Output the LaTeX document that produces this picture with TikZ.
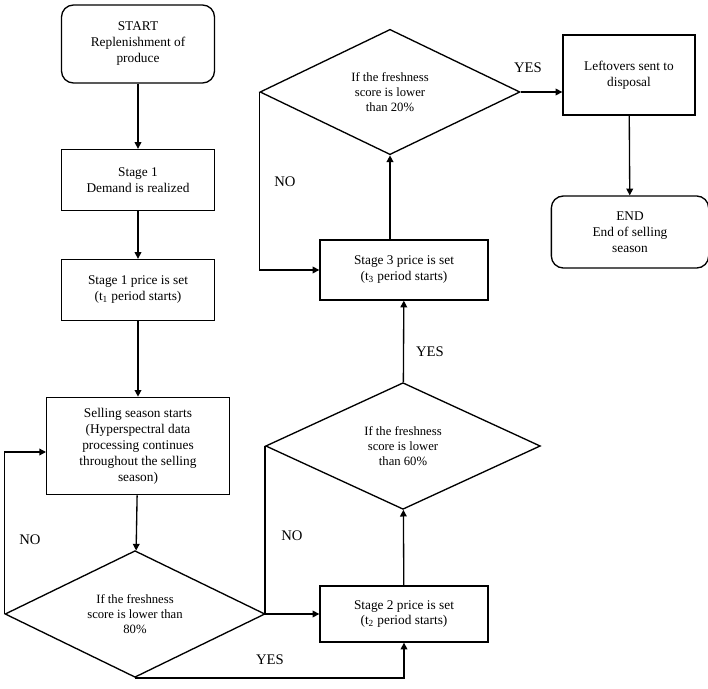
\documentclass[tikz,border=0pt]{standalone}
\usepackage{fontspec}
\setmainfont{Liberation Serif}
\usetikzlibrary{shapes.geometric,arrows.meta}
\begin{document}
\begin{tikzpicture}[x=0.75pt,y=-0.75pt,
 box/.style={draw,line width=1pt,align=center,font=\fontsize{10}{12}\selectfont,inner sep=2pt},
 dia/.style={draw,line width=1pt,diamond,aspect=2.1,align=center,font=\fontsize{9.5}{11.5}\selectfont,inner sep=0pt},
 arr/.style={line width=1pt,-{Triangle[length=5pt,width=5pt]}},
 lab/.style={font=\fontsize{11}{13}\selectfont}]
\useasboundingbox (0,0) rectangle (708,689);
\node[box,rounded corners=9pt,minimum width=114.75pt,minimum height=58.5pt] (start) at (138,44) {START\\Replenishment of\\produce};
\node[box,minimum width=114.75pt,minimum height=45.75pt] (s1) at (138,180) {Stage 1\\Demand is realized};
\node[box,minimum width=114.75pt,minimum height=45.75pt] (p1) at (138,290) {Stage 1 price is set\\(t\textsubscript{1} period starts)};
\node[box,minimum width=137pt,minimum height=73pt] (sell) at (138,446) {Selling season starts\\(Hyperspectral data\\processing continues\\throughout the selling\\season)};
\node[dia,minimum width=195pt,minimum height=95pt] (d1) at (135,614) {If the freshness\\score is lower than\\80\%};
\node[box,minimum width=126pt,minimum height=42pt] (p2) at (404,614) {Stage 2 price is set\\(t\textsubscript{2} period starts)};
\node[dia,minimum width=206pt,minimum height=95pt] (d2) at (403,446) {If the freshness\\score is lower\\than 60\%};
\node[box,minimum width=126pt,minimum height=45pt] (p3) at (404,270) {Stage 3 price is set\\(t\textsubscript{3} period starts)};
\node[dia,minimum width=195pt,minimum height=94pt] (d3) at (390,92) {If the freshness\\score is lower\\than 20\%};
\node[box,minimum width=99pt,minimum height=60pt] (left) at (629,75) {Leftovers sent to\\disposal};
\node[box,rounded corners=9pt,minimum width=118pt,minimum height=54pt] (end) at (630,232) {END\\End of selling\\season};
\coordinate (c1) at (7,452);
\draw[arr] (start) -- (s1);
\draw[arr] (s1) -- (p1);
\draw[arr] (p1) -- (sell);
\draw[arr] (sell) -- (d1);
\draw[arr] (d1.west) -- (d1.west |- c1) -- (sell.west |- c1);
\draw[arr] (d1.south) -- (p2.south |- d1.south) -- (p2.south);
\draw[arr] (p2) -- (d2);
\draw[arr] (d2.west) |- (p2.west);
\draw[arr] (d2) -- (p3);
\draw[arr] (p3.north -| d3.south) -- (d3.south);
\draw[arr] (d3.west) |- (p3.west);
\draw[arr] (d3.east) -- (left.west |- d3.east);
\draw[arr] (left) -- (end);
\node[lab] (n1) at (30,540) {NO};
\node[lab] (y1) at (270,660) {YES};
\node[lab] (n2) at (292,536) {NO};
\node[lab] (y2) at (430,352) {YES};
\node[lab] (n3) at (285,182) {NO};
\node[lab] (y3) at (528,68) {YES};
\end{tikzpicture}
\end{document}
